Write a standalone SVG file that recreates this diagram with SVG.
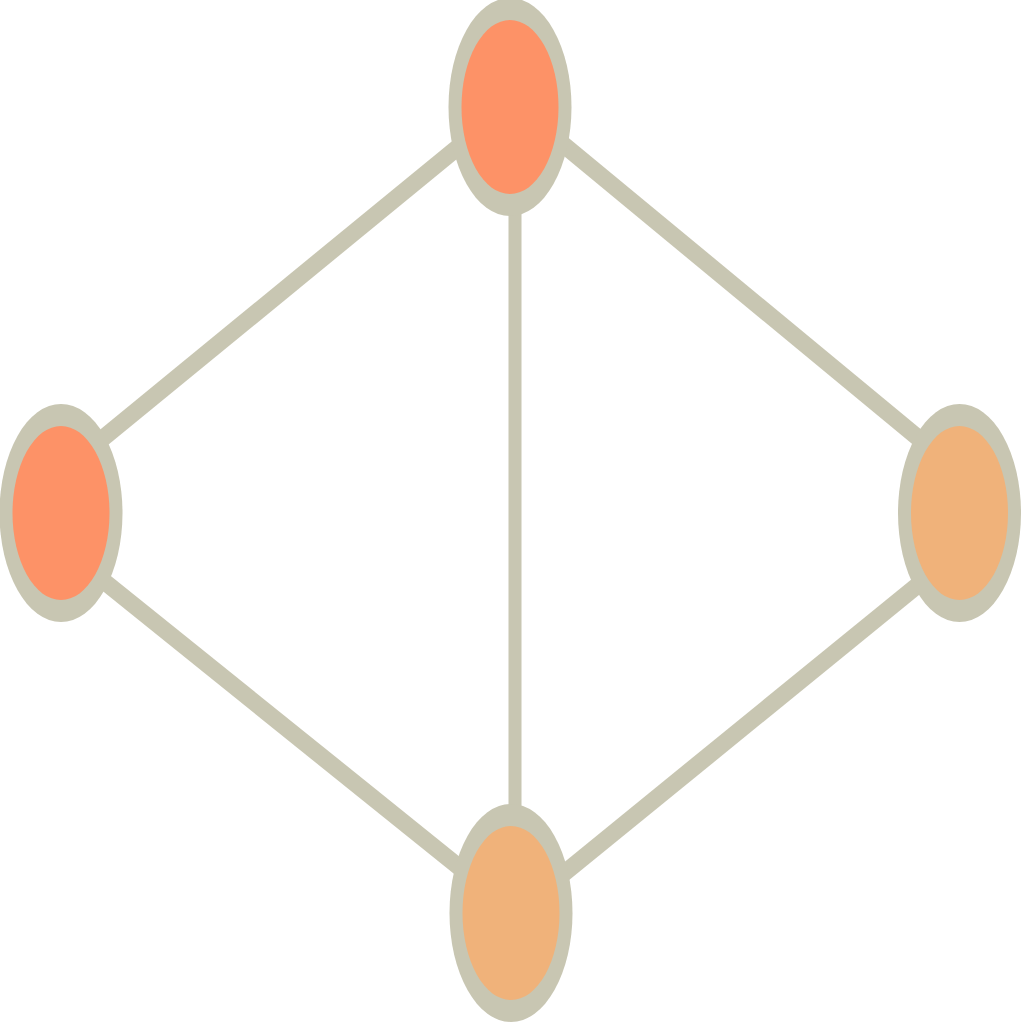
<svg xmlns="http://www.w3.org/2000/svg" width="1024" height="1024" viewBox="0 0 1024 1024">
<style>
.edge{stroke:#c8c6b2;stroke-width:17;fill:none}
.ring{fill:#c8c6b2}
.a{fill:#fd9267}
.b{fill:#f0b27a}
</style>
<rect width="1024" height="1024" fill="#ffffff"/>
<g id="edges">
<line class="edge" x1="80" y1="457" x2="490" y2="121"/>
<line class="edge" x1="530" y1="117" x2="940" y2="456"/>
<line class="edge" x1="80" y1="562" x2="490" y2="892"/>
<line class="edge" x1="940" y1="567" x2="530" y2="901"/>
<line class="edge" x1="515" y1="150" x2="515" y2="870" style="stroke-width:13"/>
</g>
<g id="n-top"><ellipse class="ring" cx="510" cy="107" rx="61.5" ry="109"/><ellipse class="a" cx="510" cy="107" rx="48.5" ry="87"/></g>
<g id="n-left"><ellipse class="ring" cx="61" cy="513" rx="61.5" ry="109"/><ellipse class="a" cx="61" cy="513" rx="48.5" ry="87"/></g>
<g id="n-right"><ellipse class="ring" cx="959.5" cy="513" rx="61.5" ry="109"/><ellipse class="b" cx="959.5" cy="513" rx="48.5" ry="87"/></g>
<g id="n-bottom"><ellipse class="ring" cx="511" cy="913" rx="61.5" ry="109"/><ellipse class="b" cx="511" cy="913" rx="48.5" ry="87"/></g>
</svg>
